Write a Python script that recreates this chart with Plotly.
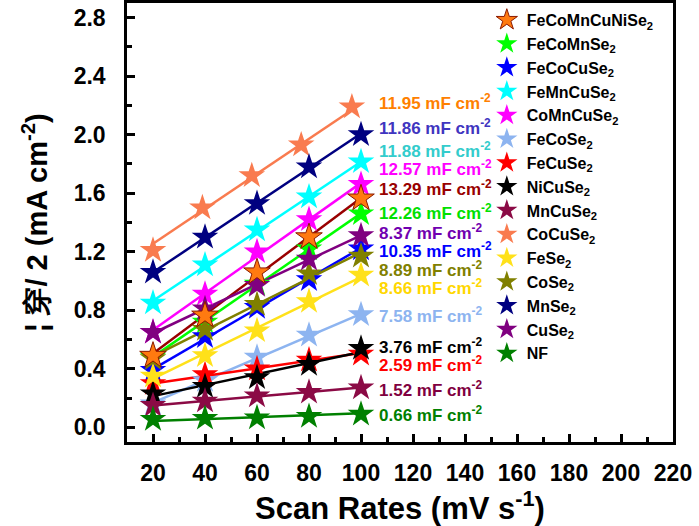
import plotly.graph_objects as go

# Scan rates (mV s-1)
scan_rate = [20, 40, 60, 80, 100]
scan_rate_cocuse2 = [20, 39, 58, 77, 96.5]

# Half capacitive current density |j|/2 (mA cm-2) for each electrode
j_fecomncunise2 = [0.49, 0.765, 1.06, 1.30, 1.565]
j_fecomnse2 = [0.48, 0.72, 0.98, 1.22, 1.46]
j_fecocuse2 = [0.39, 0.62, 0.82, 1.01, 1.22]
j_femncuse2 = [0.85, 1.11, 1.35, 1.575, 1.815]
j_comncuse2 = [0.65, 0.91, 1.20, 1.42, 1.66]
j_fecose2 = [0.16, 0.32, 0.48, 0.63, 0.77]
j_fecuse2 = [0.30, 0.36, 0.40, 0.46, 0.50]
j_nicuse2 = [0.23, 0.28, 0.34, 0.43, 0.54]
j_mncuse2 = [0.15, 0.18, 0.215, 0.24, 0.27]
j_cocuse2 = [1.21, 1.50, 1.72, 1.93, 2.19]
j_fese2 = [0.35, 0.49, 0.66, 0.86, 1.04]
j_cose2 = [0.47, 0.67, 0.84, 1.05, 1.17]
j_mnse2 = [1.06, 1.30, 1.53, 1.78, 2.00]
j_cuse2 = [0.65, 0.81, 0.97, 1.15, 1.31]
j_nf = [0.055, 0.062, 0.065, 0.075, 0.09]

sample_names = [
    "FeCoMnCuNiSe<sub>2</sub>", "FeCoMnSe<sub>2</sub>", "FeCoCuSe<sub>2</sub>",
    "FeMnCuSe<sub>2</sub>", "CoMnCuSe<sub>2</sub>", "FeCoSe<sub>2</sub>",
    "FeCuSe<sub>2</sub>", "NiCuSe<sub>2</sub>", "MnCuSe<sub>2</sub>",
    "CoCuSe<sub>2</sub>", "FeSe<sub>2</sub>", "CoSe<sub>2</sub>",
    "MnSe<sub>2</sub>", "CuSe<sub>2</sub>", "NF",
]
x_values = [scan_rate] * 9 + [scan_rate_cocuse2] + [scan_rate] * 5
y_values = [
    j_fecomncunise2, j_fecomnse2, j_fecocuse2, j_femncuse2, j_comncuse2,
    j_fecose2, j_fecuse2, j_nicuse2, j_mncuse2, j_cocuse2, j_fese2,
    j_cose2, j_mnse2, j_cuse2, j_nf,
]
# Double-layer capacitance Cdl (mF cm-2) = slope of the linear fit
cdl = [13.29, 12.26, 10.35, 11.88, 12.57, 7.58, 2.59, 3.76, 1.52,
       11.95, 8.66, 8.89, 11.86, 8.37, 0.66]

# Styling
marker_colors = ["#FF7A10", "#00FF00", "#0000FF", "#00FFFF", "#FF00FF",
                 "#8DB4F0", "#FF0000", "#000000", "#8B0A45", "#F97B4F",
                 "#FFE11A", "#808000", "#000080", "#800080", "#008000"]
line_colors = ["#990000"] + marker_colors[1:]
label_colors = ["#990000", "#00E000", "#0000FF", "#33CCCC", "#FF00FF",
                "#8DB4F0", "#FF0000", "#000000", "#800040", "#FF8000",
                "#FFD700", "#808000", "#4035C0", "#7000B0", "#008000"]
label_y = [1.633, 1.473, 1.21, 1.895, 1.77, 0.765, 0.43, 0.553, 0.263,
           2.226, 0.959, 1.085, 2.055, 1.336, 0.092]

FONT = "Liberation Sans, Arial, sans-serif"

fig = go.Figure()

# Fit lines with the Cdl slope, anchored at the data centroid
for i, name in enumerate(sample_names):
    xs, ys = x_values[i], y_values[i]
    mx = sum(xs) / len(xs)
    my = sum(ys) / len(ys)
    k = cdl[i] / 1000.0
    xl = [xs[0], xs[-1]]
    yl = [my + k * (xs[0] - mx), my + k * (xs[-1] - mx)]
    fig.add_trace(go.Scatter(
        x=xl, y=yl, mode="lines", showlegend=False, hoverinfo="skip",
        line=dict(color=line_colors[i], width=2.5),
    ))

# Measured points (FeCoMnCuNiSe2 drawn last so it sits on top)
order = list(range(1, len(sample_names))) + [0]
for i in order:
    edge = "#8B1A00" if i == 0 else marker_colors[i]
    fig.add_trace(go.Scatter(
        x=x_values[i], y=y_values[i], mode="markers", name=sample_names[i],
        legendrank=i + 1,
        marker=dict(symbol="star", size=20, color=marker_colors[i],
                    line=dict(color=edge, width=1 if i == 0 else 0)),
    ))

for i in range(len(sample_names)):
    fig.add_annotation(
        x=106, y=label_y[i], xref="x", yref="y", xanchor="left", yanchor="middle",
        text=f"{cdl[i]:.2f} mF cm<sup>-2</sup>", showarrow=False,
        font=dict(family=FONT, size=17, color=label_colors[i], weight="bold"),
    )

axis_common = dict(
    showline=True, linecolor="black", linewidth=2.5, mirror=True,
    ticks="inside", ticklen=8, tickwidth=2.5, tickcolor="black",
    showgrid=False, zeroline=False,
    tickfont=dict(family=FONT, size=23, color="black", weight="bold"),
    minor=dict(ticks="inside", ticklen=5, tickwidth=2.5, tickcolor="black"),
)

fig.update_layout(
    width=699, height=526,
    margin=dict(l=127, r=26, t=3, b=84, autoexpand=False),
    paper_bgcolor="white", plot_bgcolor="white",
    xaxis=dict(
        range=[10, 220], tick0=0, dtick=20, ticklabelstandoff=9,
        title=dict(text="Scan Rates (mV s<sup>-1</sup>)", standoff=5,
                   font=dict(family=FONT, size=31, color="black", weight="bold")),
        **axis_common,
    ),
    yaxis=dict(
        range=[-0.1, 2.9], tick0=0, dtick=0.4, tickformat=".1f",
        ticklabelstandoff=14,
        title=dict(text="¦ 穿/ 2 (mA cm<sup>-2</sup>)", standoff=18,
                   font=dict(family=FONT, size=29, color="black", weight="bold")),
        **axis_common,
    ),
    legend=dict(
        x=0.659, y=1.0, xanchor="left", yanchor="top",
        bgcolor="rgba(0,0,0,0)", borderwidth=0,
        font=dict(family=FONT, size=16, color="black", weight="bold"),
    ),
    showlegend=True,
)
fig.update_xaxes(minor=dict(dtick=10))
fig.update_yaxes(minor=dict(dtick=0.2))

fig.write_html("out.html")
